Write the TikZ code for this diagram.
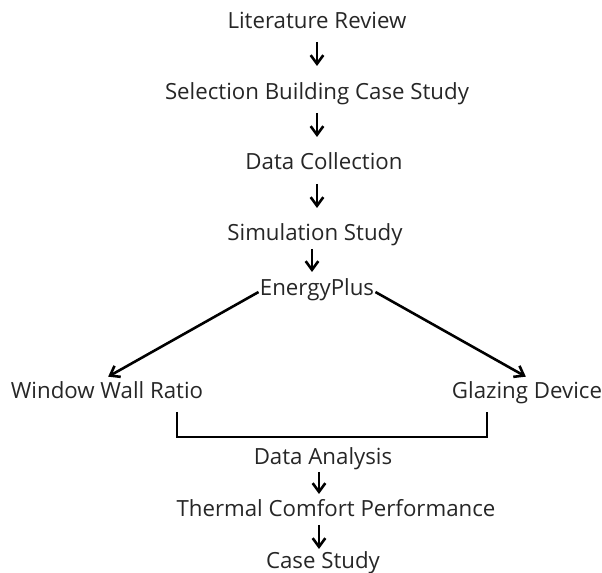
\documentclass[tikz,border=0pt]{standalone}
\usepackage{fontspec}
\setmainfont{Open Sans}
\usetikzlibrary{arrows.meta,positioning,calc}

\begin{document}
\begin{tikzpicture}[x=0.03cm,y=0.03cm,font=\fontsize{19}{22}\selectfont]
  %----- styles
  \tikzset{
    step box/.style ={inner sep=1pt,text=black!85,text height=1.6ex,text depth=.45ex,yshift=-4.3pt},
    arrow/.style ={-{Straight Barb[length=2.6mm,width=3.8mm]},line width=2.2pt},
    bracket/.style ={line width=2.1pt}
  }
  \useasboundingbox (0,0) rectangle (602,-573);

  %==================== COLUMN LAYOUT ====================
  \def\xM{317}   % main column
  \def\xL{107}   % left branch
  \def\xR{527}   % right branch

  %----- nodes
  \node[step box] (lit)  at (\xM,-20)  {Literature Review};
  \node[step box] (sel)  at (\xM,-91)  {Selection Building Case Study};
  \node[step box] (col)  at (324,-161) {Data Collection};
  \node[step box] (sim)  at (315,-232) {Simulation Study};
  \node[step box] (ep)   at (317,-287) {EnergyPlus};
  \node[step box] (wwr)  at (\xL,-390) {Window Wall Ratio};
  \node[step box] (gd)   at (\xR,-390) {Glazing Device};
  \node[step box] (da)   at (323,-456) {Data Analysis};
  \node[step box] (tcp)  at (336,-508) {Thermal Comfort Performance};
  \node[step box] (cs)   at (323,-560) {Case Study};

  % bracket corners
  \coordinate (bl) at (177,-412);
  \coordinate (br) at (487,-412);

  %----- connections
  \draw[arrow] (\xM,-42) -- (\xM,-66);
  \draw[arrow] (\xM,-113) -- (\xM,-137);
  \draw[arrow] (\xM,-184) -- (\xM,-208);
  \draw[arrow] (312,-249) -- (312,-272);

  % EnergyPlus -> branches
  \draw[arrow] (ep.west) -- ([xshift=1pt,yshift=9pt]wwr.north);
  \draw[arrow] (ep.east) -- ([xshift=-1pt,yshift=9pt]gd.north);

  % branches -> Data Analysis
  \draw[bracket] (bl) -- ++(0,-25) -| (br);

  \draw[arrow] (319,-472) -- (319,-494);
  \draw[arrow] (319,-525) -- (319,-549);

\end{tikzpicture}
\end{document}
